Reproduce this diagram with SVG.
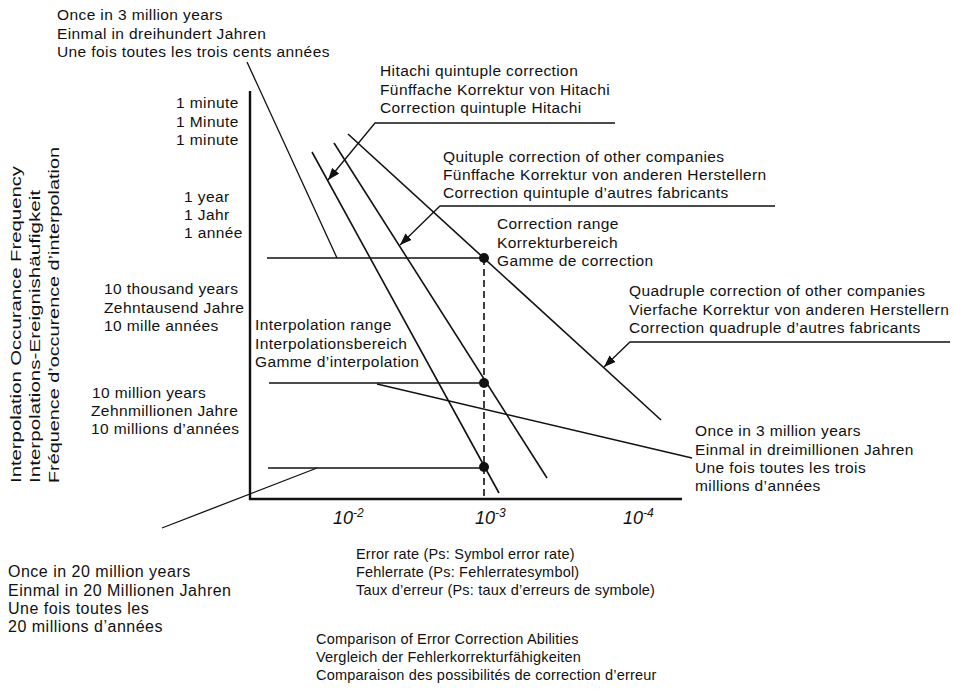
<svg xmlns="http://www.w3.org/2000/svg" width="955" height="690" viewBox="0 0 955 690">
<style>
  .t { font-family: "Liberation Sans", Arial, sans-serif; font-size: 15.5px; letter-spacing: 0.4px; fill: #111; }
  .s { font-family: "Liberation Sans", Arial, sans-serif; font-size: 14.5px; letter-spacing: 0.2px; fill: #111; }
  .b { font-family: "Liberation Sans", Arial, sans-serif; font-size: 16px; letter-spacing: 0.5px; fill: #111; }
  .v { font-family: "Liberation Sans", Arial, sans-serif; font-size: 15.5px; fill: #111; }
  .tick { font-family: "Liberation Sans", Arial, sans-serif; font-size: 18px; font-style: italic; fill: #111; }
  .sup { font-size: 12px; }
  .ln { stroke: #111; stroke-width: 1.6; fill: none; }
  .ax { stroke: #111; stroke-width: 2.4; fill: none; }
  .ld { stroke: #111; stroke-width: 1.3; fill: none; }
  .arr { stroke: #111; stroke-width: 1.3; fill: none; marker-end: url(#ah); }
  .dash { stroke: #111; stroke-width: 1.6; stroke-dasharray: 7 4; fill: none; }
  .dot { fill: #111; }
</style>
<defs>
  <marker id="ah" markerUnits="userSpaceOnUse" markerWidth="13" markerHeight="9" refX="12" refY="4.5" orient="auto">
    <path d="M0,0 L12,4.5 L0,9 z" fill="#111"/>
  </marker>
</defs>
<rect width="955" height="690" fill="#fff"/>

<g id="axes">
  <line class="ax" x1="250" y1="91" x2="250" y2="500"/>
  <line class="ax" x1="249" y1="499" x2="682" y2="499"/>
</g>

<g id="curves">
  <line class="ln" x1="312" y1="152" x2="499" y2="493"/>
  <line class="ln" x1="334" y1="143" x2="547" y2="478"/>
  <line class="ln" x1="348" y1="134" x2="661" y2="420"/>
  <line class="ln" x1="267" y1="258" x2="484" y2="258"/>
  <line class="ln" x1="269" y1="383" x2="484" y2="383"/>
  <line class="ln" x1="268" y1="468" x2="484" y2="468"/>
  <line class="dash" x1="484" y1="258" x2="484" y2="499"/>
  <circle class="dot" cx="484" cy="258" r="5"/>
  <circle class="dot" cx="484" cy="383" r="5"/>
  <circle class="dot" cx="484" cy="467" r="5"/>
</g>

<g id="connectors">
  <line class="ld" x1="247" y1="62" x2="337" y2="258"/>
  <polyline class="arr" points="615,123 375,123 328,180"/>
  <polyline class="arr" points="775,206 440,206 400,245"/>
  <polyline class="arr" points="950,342 630,342 604,367"/>
  <line class="ld" x1="377" y1="384" x2="692" y2="458"/>
  <line class="ld" x1="162" y1="528" x2="317" y2="468"/>
</g>

<g id="ylabel">
  <text class="v" transform="translate(21,483) rotate(-90)" textLength="317" lengthAdjust="spacingAndGlyphs">Interpolation Occurance Frequency</text>
  <text class="v" transform="translate(40,483) rotate(-90)" textLength="293" lengthAdjust="spacingAndGlyphs">Interpolations-Ereignishäufigkeit</text>
  <text class="v" transform="translate(59,483) rotate(-90)" textLength="336" lengthAdjust="spacingAndGlyphs">Fréquence d’occurence d’interpolation</text>
</g>

<g id="node-once-300">
  <text class="t" x="57" y="20">Once in 3 million years</text>
  <text class="t" x="57" y="38.5">Einmal in dreihundert Jahren</text>
  <text class="t" x="57" y="57">Une fois toutes les trois cents années</text>
</g>

<g id="node-hitachi">
  <text class="t" x="380" y="76">Hitachi quintuple correction</text>
  <text class="t" x="380" y="94.5">Fünffache Korrektur von Hitachi</text>
  <text class="t" x="380" y="113">Correction quintuple Hitachi</text>
</g>

<g id="node-quituple">
  <text class="t" x="443" y="162">Quituple correction of other companies</text>
  <text class="t" x="443" y="180">Fünffache Korrektur von anderen Herstellern</text>
  <text class="t" x="443" y="198">Correction quintuple d’autres fabricants</text>
</g>

<g id="node-correction-range">
  <text class="t" x="497" y="229">Correction range</text>
  <text class="t" x="497" y="247.5">Korrekturbereich</text>
  <text class="t" x="497" y="266">Gamme de correction</text>
</g>

<g id="node-minute">
  <text class="t" x="176" y="108">1 minute</text>
  <text class="t" x="176" y="126.5">1 Minute</text>
  <text class="t" x="176" y="145">1 minute</text>
</g>

<g id="node-year">
  <text class="t" x="184" y="201.5">1 year</text>
  <text class="t" x="184" y="220">1 Jahr</text>
  <text class="t" x="184" y="238">1 année</text>
</g>

<g id="node-10k">
  <text class="t" x="104" y="294">10 thousand years</text>
  <text class="t" x="104" y="312.5">Zehntausend Jahre</text>
  <text class="t" x="104" y="331">10 mille années</text>
</g>

<g id="node-interpolation-range">
  <text class="t" x="255" y="330">Interpolation range</text>
  <text class="t" x="255" y="348.5">Interpolationsbereich</text>
  <text class="t" x="255" y="367">Gamme d’interpolation</text>
</g>

<g id="node-10m">
  <text class="t" x="92" y="397.5">10 million years</text>
  <text class="t" x="91" y="416">Zehnmillionen Jahre</text>
  <text class="t" x="91" y="434">10 millions d’années</text>
</g>

<g id="node-quadruple">
  <text class="t" x="629" y="296">Quadruple correction of other companies</text>
  <text class="t" x="629" y="315">Vierfache Korrektur von anderen Herstellern</text>
  <text class="t" x="629" y="333">Correction quadruple d’autres fabricants</text>
</g>

<g id="node-once-3m">
  <text class="t" x="695" y="436">Once in 3 million years</text>
  <text class="t" x="695" y="455">Einmal in dreimillionen Jahren</text>
  <text class="t" x="695" y="473">Une fois toutes les trois</text>
  <text class="t" x="695" y="491">millions d’années</text>
</g>

<g id="node-once-20m">
  <text class="b" x="8" y="577">Once in 20 million years</text>
  <text class="b" x="8" y="596">Einmal in 20 Millionen Jahren</text>
  <text class="b" x="8" y="614">Une fois toutes les</text>
  <text class="b" x="8" y="632">20 millions d’années</text>
</g>

<g id="xticks">
  <text class="tick" x="333" y="524">10<tspan class="sup" dy="-7">-2</tspan></text>
  <text class="tick" x="475" y="524">10<tspan class="sup" dy="-7">-3</tspan></text>
  <text class="tick" x="623" y="524">10<tspan class="sup" dy="-7">-4</tspan></text>
</g>

<g id="node-xlabel">
  <text class="s" x="356" y="559">Error rate (Ps:  Symbol error rate)</text>
  <text class="s" x="356" y="577">Fehlerrate (Ps:  Fehlerratesymbol)</text>
  <text class="s" x="356" y="595">Taux d’erreur (Ps:  taux d’erreurs de symbole)</text>
</g>

<g id="node-caption">
  <text class="s" x="316" y="644">Comparison of Error Correction Abilities</text>
  <text class="s" x="316" y="662">Vergleich der Fehlerkorrekturfähigkeiten</text>
  <text class="s" x="316" y="680">Comparaison des possibilités de correction d’erreur</text>
</g>
</svg>
